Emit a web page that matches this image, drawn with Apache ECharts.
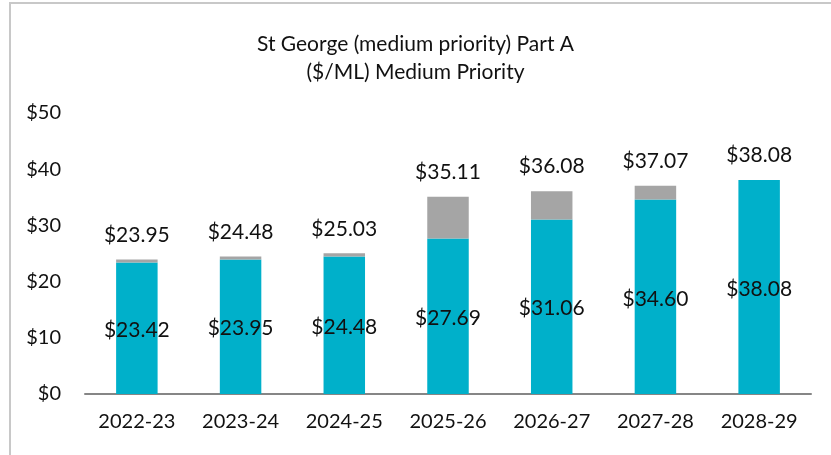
<!DOCTYPE html>
<html>
	<head>
		<meta charset="UTF-8">
		<title>St George Part A</title>
		<style>
			html, body { margin: 0; padding: 0; background: #fff; }
			#wrap { position: relative; width: 831px; height: 455px; overflow: hidden; }
			#myChart { width: 831px; height: 455px; }
			#frame {
				position: absolute; left: 9px; top: 2px; width: 900px; height: 500px;
				border-left: 2px solid #c8c8c8; border-top: 2px solid #c8c8c8;
				pointer-events: none;
			}
		</style>
	</head>
	<body>
		<div id="wrap">
			<div id="myChart"></div>
			<div id="frame"></div>
		</div>
	</body>
	<script type="text/javascript" src="https://cdn.jsdelivr.net/npm/echarts@6/dist/echarts.min.js"></script>
	<script>
		// 数据
		var years = ['2022-23', '2023-24', '2024-25', '2025-26', '2026-27', '2027-28', '2028-29'];
		var basePrice = [23.42, 23.95, 24.48, 27.69, 31.06, 34.60, 38.08];
		var totalPrice = [23.95, 24.48, 25.03, 35.11, 36.08, 37.07, 38.08];
		var yTicks = [0, 10, 20, 30, 40, 50];

		var gap = totalPrice.map(function (t, i) {
			return +(t - basePrice[i]).toFixed(2);
		});

		var font = 'Lato, "Open Sans", sans-serif';
		var myChart = echarts.init(document.getElementById('myChart'));
		var option = {
			animation: false,
			title: {
				text: 'St George (medium priority) Part A\n($/ML) Medium Priority',
				left: 'center',
				top: 25,
				textStyle: {
					fontFamily: font,
					fontWeight: 'normal',
					fontSize: 21,
					lineHeight: 28,
					color: '#111'
				}
			},
			grid: {
				left: 85,
				right: 20,
				top: 113,
				bottom: 61
			},
			xAxis: {
				type: 'category',
				data: years,
				axisLine: { lineStyle: { color: '#868686', width: 2 } },
				axisTick: { show: false },
				axisLabel: {
					fontFamily: font,
					fontSize: 20,
					color: '#111',
					margin: 18
				}
			},
			yAxis: {
				type: 'value',
				min: yTicks[0],
				max: yTicks[yTicks.length - 1],
				interval: 10,
				splitLine: { show: false },
				axisLine: { show: false },
				axisTick: { show: false },
				axisLabel: {
					fontFamily: font,
					fontSize: 20,
					color: '#111',
					margin: 24,
					formatter: '${value}'
				}
			},
			series: [{
				type: 'bar',
				stack: 'price',
				data: basePrice,
				barWidth: '40%',
				itemStyle: { color: '#00b0ca' },
				label: {
					show: true,
					position: 'inside',
					offset: [0, 2],
					fontFamily: font,
					fontSize: 21,
					color: '#111',
					formatter: function (p) { return '$' + p.value.toFixed(2); }
				}
			}, {
				type: 'bar',
				stack: 'price',
				data: gap,
				barWidth: '40%',
				itemStyle: { color: '#a5a5a5' },
				label: {
					show: true,
					position: 'top',
					distance: 14,
					fontFamily: font,
					fontSize: 21,
					color: '#111',
					formatter: function (p) { return '$' + totalPrice[p.dataIndex].toFixed(2); }
				}
			}]
		};
		myChart.setOption(option);
	</script>
</html>
